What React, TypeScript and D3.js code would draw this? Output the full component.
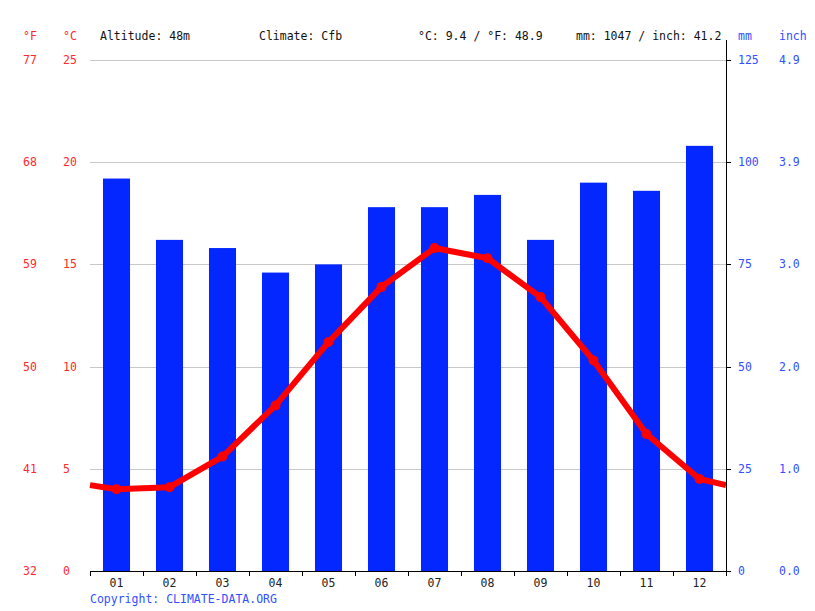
import React from "react";
import * as d3 from "d3";

const months: string[] = ["01", "02", "03", "04", "05", "06", "07", "08", "09", "10", "11", "12"];
const precipMm: number[] = [96, 81, 79, 73, 75, 89, 89, 92, 81, 95, 93, 104];
const tempC: number[] = [4.0, 4.1, 5.6, 8.1, 11.2, 13.9, 15.8, 15.3, 13.4, 10.3, 6.7, 4.5];
// line runs out to the plot edges at this value on both sides
const edgeTempC: number = 4.2;

const cTicks: number[] = [0, 5, 10, 15, 20, 25];
const fLabels: string[] = ["32", "41", "50", "59", "68", "77"];
const mmTicks: number[] = [0, 25, 50, 75, 100, 125];
const inchLabels: string[] = ["0.0", "1.0", "2.0", "3.0", "3.9", "4.9"];

const headerItems: Array<[number, string]> = [
  [100, "Altitude: 48m"],
  [259, "Climate: Cfb"],
  [418, "°C: 9.4 / °F: 48.9"],
  [576, "mm: 1047 / inch: 41.2"],
];

const RED_TEXT = "#ff2a2a";
const BLUE_TEXT = "#3050ff";
const BAR = "#0527ff";
const LINE = "#ff0000";
const FONT = "'DejaVu Sans Mono', monospace";

export default function App(): React.ReactElement {
  const width = 815;
  const height = 611;
  const left = 90, right = 726, top = 60, bottom = 571;

  const x = d3.scaleBand<string>().domain(months).range([left, right]).padding(0);
  const yC = d3.scaleLinear().domain([0, 25]).range([bottom, top]);
  const yMm = d3.scaleLinear().domain([0, 125]).range([bottom, top]);
  const barW = x.bandwidth() * 0.51;

  const pts: Array<[number, number]> = [
    [left, yC(edgeTempC)],
    ...tempC.map((t, i): [number, number] => [(x(months[i]) as number) + x.bandwidth() / 2, yC(t)]),
    [right, yC(edgeTempC)],
  ];
  const linePath = d3.line()(pts) as string;

  return (
    <svg width={width} height={height} style={{position: "absolute", left: 0, top: 0, background: "#fff"}}
         fontFamily={FONT} fontSize={11.5}>
      {headerItems.map(([hx, t]) => (
        <text key={t} x={hx} y={40} fill="#111">{t}</text>
      ))}
      <text x={23} y={40} fill={RED_TEXT}>°F</text>
      <text x={63} y={40} fill={RED_TEXT}>°C</text>
      <text x={738} y={40} fill={BLUE_TEXT}>mm</text>
      <text x={779} y={40} fill={BLUE_TEXT}>inch</text>

      {cTicks.filter(t => t > 0).map(t => (
        <line key={"g" + t} x1={left} x2={right} y1={Math.round(yC(t)) + 0.5} y2={Math.round(yC(t)) + 0.5}
              stroke="#c8c8c8" strokeWidth={1} shapeRendering="crispEdges" />
      ))}

      {cTicks.map((t, i) => (
        <g key={"c" + t} fill={RED_TEXT}>
          <text x={23} y={yC(t) + 4}>{fLabels[i]}</text>
          <text x={63} y={yC(t) + 4}>{t}</text>
        </g>
      ))}
      {mmTicks.map((m, i) => (
        <g key={"m" + m} fill={BLUE_TEXT}>
          <line x1={right} x2={right + 5} y1={Math.round(yMm(m)) + 0.5} y2={Math.round(yMm(m)) + 0.5}
                stroke="#000" shapeRendering="crispEdges" />
          <text x={738} y={yMm(m) + 4}>{m}</text>
          <text x={779} y={yMm(m) + 4}>{inchLabels[i]}</text>
        </g>
      ))}

      {precipMm.map((p, i) => {
        const cx = (x(months[i]) as number) + x.bandwidth() / 2;
        return <rect key={"b" + i} x={cx - barW / 2} y={yMm(p)} width={barW} height={bottom - yMm(p)} fill={BAR} />;
      })}

      <path d={linePath} fill="none" stroke={LINE} strokeWidth={6} strokeLinejoin="round" />
      {pts.slice(1, -1).map(([px, py], i) => (
        <circle key={"p" + i} cx={px} cy={py} r={5} fill={LINE} />
      ))}

      <g stroke="#000" shapeRendering="crispEdges">
        <line x1={left} x2={right + 1} y1={bottom + 0.5} y2={bottom + 0.5} />
        <line x1={right + 0.5} x2={right + 0.5} y1={40} y2={bottom + 1} />
        {[...months.map(m => x(m) as number), right].map((tx, i) => (
          <line key={"t" + i} x1={Math.round(tx) + 0.5} x2={Math.round(tx) + 0.5} y1={bottom} y2={bottom + 5} />
        ))}
      </g>
      {months.map(m => (
        <text key={"l" + m} x={(x(m) as number) + x.bandwidth() / 2} y={587} textAnchor="middle" fill="#222">{m}</text>
      ))}

      <text x={90} y={603} fill={BLUE_TEXT}>Copyright: CLIMATE-DATA.ORG</text>
    </svg>
  );
}
